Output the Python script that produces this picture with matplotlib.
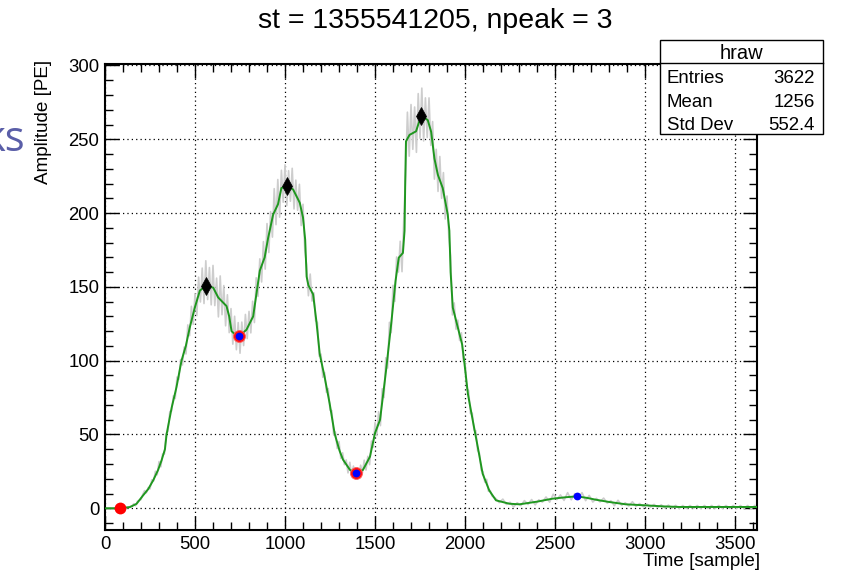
import numpy as np
import matplotlib
matplotlib.use("Agg")
import matplotlib.pyplot as plt
from matplotlib.patches import Rectangle
from matplotlib.lines import Line2D
from matplotlib.ticker import MultipleLocator

plt.rcParams['font.family'] = ['Liberation Sans', 'DejaVu Sans']

# ---- smoothed waveform (time in samples, amplitude in PE) ----
smooth_t = [0, 60, 100, 138, 175, 212, 240, 268, 295, 314, 333, 342, 370, 397,
            425, 449, 471, 499, 527, 560, 601, 629, 656, 675, 690, 703, 721, 745,
            786, 823, 841, 860, 887, 906, 934, 961, 980, 1013, 1045, 1082, 1100,
            1112, 1120, 1130, 1156, 1174, 1193, 1220, 1248, 1276, 1303, 1322, 1361,
            1394, 1433, 1472, 1500, 1528, 1560, 1590, 1614, 1632, 1655, 1664, 1668,
            1672, 1692, 1728, 1756, 1793, 1812, 1830, 1849, 1876, 1904, 1913, 1920,
            1932, 1960, 1984, 1997, 2016, 2043, 2071, 2098, 2135, 2172, 2246, 2302,
            2400, 2485, 2560, 2622, 2680, 2727, 2800, 2893, 3004, 3100, 3189, 3400,
            3622]
smooth_A = [0, 0, 0.3, 0.8, 3, 8.8, 13, 19, 26, 32.4, 40, 50, 68, 82,
            100, 110, 122.5, 136, 147.5, 150.7, 149.5, 142.8, 139.4, 137, 130, 120, 118, 116.5,
            121, 130, 145, 161, 170, 183, 199, 206, 217, 218.2, 216, 207, 197,
            182, 157, 151, 145, 127, 104.5, 89, 71, 50.4, 39, 33, 26,
            23.6, 26, 35, 51, 60, 92, 125, 154, 169.8, 173, 188, 222,
            248.6, 253, 255.4, 266, 263, 255, 237, 226, 217, 199, 188, 160,
            136, 122.5, 111, 98, 77.5, 59.5, 41.4, 23.4, 12, 5.4, 3.1, 2.7,
            4.5, 6.5, 7.5, 8.1, 7, 5.8, 4.3, 2.7, 2, 1.3, 0.9, 0.9,
            0.9]

# ---- raw trace: deviation from the smoothed waveform ----
raw_t_main = np.arange(150, 2151, 10)
raw_dev_main = [
    0, 1, -1, 1, 0, -1, 1, 2, -1, 1, -2, 2, -1, 3, -2, 4, -3, 2, -2, 3,
    -3, 4, -2, 3, -4, 5, -3, 4, -5, 3,
    -6, 8, -5, 10, -7, 9, -10, 12, -8, 14, -11, 17, -9, 13, -12, 15, -10, 11, -13, 16,
    -9, 12, -14, 10, -11, 13, -8, 12, -10, 9, -12, 8, -9, 11, -7,
    9, -8, 11, -10, 12, -9, 8, -11, 13, -10, 14, -12, 10, -13, 16, -11, 17, -14, 12, -10,
    15, -13, 11, -9, 14, -12, 10, -8, 12, -11, 9, -10, 8, -7, 10,
    -6, 5, -4, 6, -5, 4, -6, 3, -4, 5, -3, 4, -5, 3, -4, 5, -3, 4, -2, 3,
    -4, 5, -3, 4, -2,
    3, -3, 4, -2, 5, -4, 3, -5, 6, -4, 7, -5, 8, -6, 9, -7, 10, -8, 12, -6,
    14, -9, 11, -8, 10,
    -12, 15, -10, 18, -14, 20, -11, 17, -15, 21, -13, 19, -16, 14, -12, 18, -10, 15, -14, 12,
    -11, 16, -9, 13, -12, 10, -8, 11, -9, 7,
    -6, 5, -4, 6, -5, 4, -3, 5, -4, 3, -2, 4, -3, 2, -3, 2, -2, 3, -2, 1, -1]
raw_t_tail = np.arange(2170, 3611, 20)
raw_dev_tail = [
    1, -1, 2, -1, 1, -2, 1, -1, 2, -1, 2, -2, 1, -1, 2, -2, 3, -1, 2, -2,
    3, -2, 2, -1, 3, -2, 2, -2, 1, -1, 2, -1, 1, -2, 2, -1, 1, -1, 2, -1,
    1, -1, 1, -1, 1, -1, 1, -1, 1, -1, 1, -1, 1, -1, 1, -1, 1, -1, 1, -1,
    1, -1, 1, -1, 1, -1, 1, -1, 1, -1, 1, -1, 1]

# ---- found features ----
start_t, start_A = [83], [0]
peak_t = [560, 1013, 1756]
peak_A = [150.7, 218.2, 266]
valley_t = [745, 1394]
valley_A = [116.5, 23.6]
end_t, end_A = [2622], [8.1]

title = "st = 1355541205, npeak = 3"
stats_name = "hraw"
stats_rows = [("Entries", "3622"), ("Mean", "1256"), ("Std Dev", "552.4")]

W, H = 841, 570
fig = plt.figure(figsize=(W / 100, H / 100), dpi=100)


def fx(px):
    return px / W


def fy(py):
    return 1 - py / H


ax = fig.add_axes([fx(105), fy(530), fx(757) - fx(105), fy(64) - fy(530)])

raw_t = np.concatenate([raw_t_main, raw_t_tail])
raw_dev = np.array(raw_dev_main + raw_dev_tail, dtype=float)
raw_A = np.interp(raw_t, smooth_t, smooth_A) + raw_dev
raw_t = np.concatenate([[0, 100], raw_t])
raw_A = np.concatenate([[0, 0], raw_A])

ax.plot(raw_t, raw_A, color='#cdcdcd', lw=1.2, zorder=2)
ax.plot(smooth_t, smooth_A, color='#1f971f', lw=1.4, zorder=3)

ax.plot(start_t, start_A, 'o', color='#ff0000', ms=8.5, mec='none', zorder=5)
ax.plot(peak_t, peak_A, 'd', color='black', ms=9, mec='black', mew=0.5, zorder=5)
ax.plot(valley_t, valley_A, 'o', color='#ff1010', ms=8.6, mec='#ff6060', mew=0.6, zorder=5)
ax.plot(valley_t, valley_A, 'o', color='#0000ff', ms=5.6, mec='none', zorder=6)
ax.plot(end_t, end_A, 'o', color='#0000ff', ms=5.6, mec='none', zorder=5)

ax.set_xlim(0, 3622)
ax.set_ylim(-14.7, 301)
ax.xaxis.set_major_locator(MultipleLocator(500))
ax.xaxis.set_minor_locator(MultipleLocator(100))
ax.yaxis.set_major_locator(MultipleLocator(50))
ax.yaxis.set_minor_locator(MultipleLocator(10))

ax.grid(True, which='major', color='black', lw=0.9, linestyle=(0, (1, 2.5)), zorder=1)
ax.set_axisbelow(True)

ax.tick_params(which='both', direction='in', top=True, right=True, width=1.0,
               color='black', labelsize=13.3)
ax.tick_params(which='major', length=10)
ax.tick_params(which='minor', length=5.5)
ax.tick_params(axis='y', which='major', pad=4)
ax.tick_params(axis='x', which='major', pad=4)
for sp in ax.spines.values():
    sp.set_linewidth(1.5)

fig.text(fx(435), fy(28), title, ha='center', va='baseline', fontsize=20.5)
fig.text(fx(760), fy(566), "Time [sample]", ha='right', va='baseline', fontsize=13.6)
fig.text(fx(43), fy(60), "Amplitude [PE]", rotation=90, ha='center', va='top', fontsize=13.6)

# slide heading fragment at the left edge
fig.text(fx(25), fy(151), "ks", ha='right', va='baseline', fontsize=30,
         color='#5a5ea8', family=['Open Sans', 'DejaVu Sans'])

# statistics box
box = Rectangle((fx(660), fy(134)), fx(823) - fx(660), fy(40) - fy(134),
                transform=fig.transFigure, facecolor='white', edgecolor='black',
                lw=1.0, zorder=5)
fig.add_artist(box)
fig.add_artist(Line2D([fx(660), fx(823)], [fy(63), fy(63)], transform=fig.transFigure,
                      color='black', lw=1.0, zorder=6))
fig.text(fx(741), fy(59), stats_name, ha='center', va='baseline', fontsize=14.5, zorder=7)
for i, (lab, val) in enumerate(stats_rows):
    yb = 83.3 + i * 23.4
    fig.text(fx(667), fy(yb), lab, ha='left', va='baseline', fontsize=13.4, zorder=7)
    fig.text(fx(815), fy(yb), val, ha='right', va='baseline', fontsize=13.4, zorder=7)

fig.savefig("out.png", dpi=100)
